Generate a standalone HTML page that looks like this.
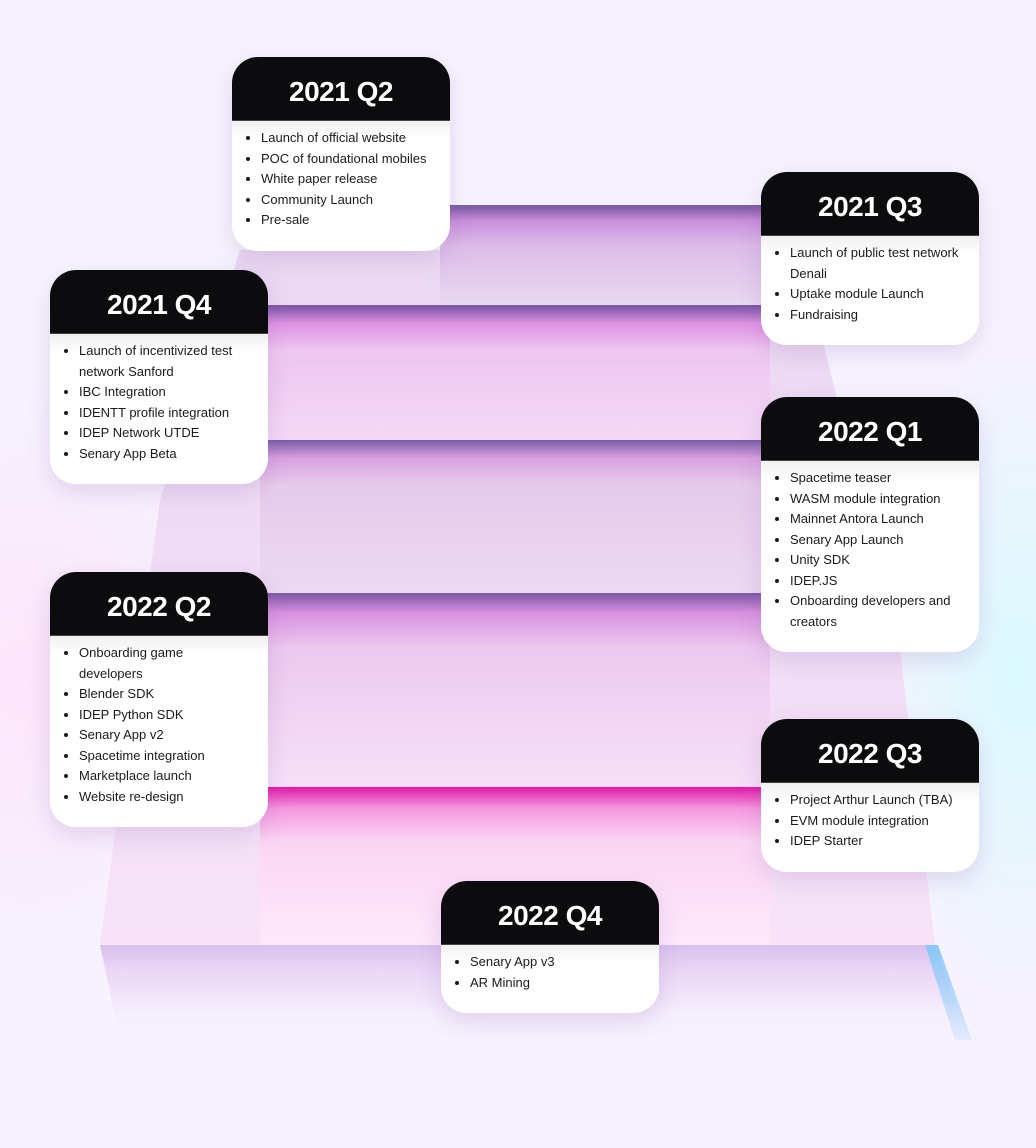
<!DOCTYPE html>
<html><head><style>
body{margin:0;width:1036px;height:1148px;overflow:hidden;background:#f6f3fe;font-family:"Liberation Sans",sans-serif;position:relative}
.bg{position:absolute}
.band{position:absolute}
.card{position:absolute;width:218px;background:#fff;border-radius:26px;overflow:hidden;box-shadow:0 8px 24px rgba(120,80,160,.18)}
.card h2{margin:0;background:#0c0c0e;color:#fff;font-size:28px;font-weight:900;text-align:center;letter-spacing:-0.5px;height:63px;line-height:70px;border-bottom:1px solid #444}
.card ul{margin:0;padding:7px 14px 20px 29px;font-size:13px;line-height:20.5px;color:#1a1a1a;background:linear-gradient(#f0f0f0,#fff 18px)}
</style></head><body>
<div class="bg" style="left:0;top:380px;width:260px;height:600px;background:radial-gradient(ellipse at 10% 50%,rgba(255,225,250,.8),transparent 70%)"></div>
<div class="bg" style="left:860px;top:350px;width:176px;height:650px;background:radial-gradient(ellipse at 90% 50%,rgba(215,250,255,.9),transparent 70%)"></div>
<!-- main pink body -->
<div class="bg" style="left:0;top:0;width:1036px;height:1148px;clip-path:polygon(240px 250px,440px 250px,440px 205px,770px 205px,820px 330px,900px 650px,935px 945px,100px 945px,160px 500px);background:linear-gradient(#e6d6f0,#f0dcf5 50%,#fbe6fa)"></div>
<div class="band" style="left:440px;top:205px;width:330px;height:100px;background:linear-gradient(#7a5aa6 0,#8a62ae 4px,#c98fdb 16px,#dcbbe8 40px,#e9d9f1 100%)"></div>
<div class="band" style="left:260px;top:305px;width:510px;height:135px;background:linear-gradient(#7a58a6 0,#8a5fae 4px,#de92e2 18px,#eec6f1 45px,#f4d9f6 100%)"></div>
<div class="band" style="left:260px;top:440px;width:510px;height:153px;background:linear-gradient(#7a5aa6 0,#8e6cb3 4px,#d8a0e0 18px,#e6cbeb 45px,#ecd9f1 100%)"></div>
<div class="band" style="left:260px;top:593px;width:510px;height:194px;background:linear-gradient(#7a5aa6 0,#9162b1 4px,#d991e0 20px,#ecc9ef 55px,#f6e1f8 100%)"></div>
<div class="band" style="left:260px;top:787px;width:510px;height:158px;background:linear-gradient(#e21aa6 0,#e63cb8 6px,#f59ae0 22px,#fbd6f4 55px,#fde9fb 100%)"></div>
<div class="band" style="left:0;top:945px;width:1036px;height:100px;clip-path:polygon(100px 0,935px 0,970px 95px,120px 95px);background:linear-gradient(#d9c0ee 0,#ead6f6 25px,rgba(246,236,252,.6) 70px,rgba(246,243,254,0) 100%)"></div>
<div class="band" style="left:0;top:945px;width:1036px;height:100px;clip-path:polygon(925px 0,938px 0,972px 95px,955px 95px);background:linear-gradient(#8cc8f8,rgba(200,225,252,.3))"></div>

<div class="card" style="left:232px;top:57px"><h2>2021 Q2</h2><ul>
<li>Launch of official website</li><li>POC of foundational mobiles</li><li>White paper release</li><li>Community Launch</li><li>Pre-sale</li></ul></div>

<div class="card" style="left:761px;top:172px"><h2>2021 Q3</h2><ul>
<li>Launch of public test network Denali</li><li>Uptake module Launch</li><li>Fundraising</li></ul></div>

<div class="card" style="left:50px;top:270px"><h2>2021 Q4</h2><ul>
<li>Launch of incentivized test network Sanford</li><li>IBC Integration</li><li>IDENTT profile integration</li><li>IDEP Network UTDE</li><li>Senary App Beta</li></ul></div>

<div class="card" style="left:761px;top:397px"><h2>2022 Q1</h2><ul>
<li>Spacetime teaser</li><li>WASM module integration</li><li>Mainnet Antora Launch</li><li>Senary App Launch</li><li>Unity SDK</li><li>IDEP.JS</li><li>Onboarding developers and creators</li></ul></div>

<div class="card" style="left:50px;top:572px"><h2>2022 Q2</h2><ul>
<li>Onboarding game<br>developers</li><li>Blender SDK</li><li>IDEP Python SDK</li><li>Senary App v2</li><li>Spacetime integration</li><li>Marketplace launch</li><li>Website re-design</li></ul></div>

<div class="card" style="left:761px;top:719px"><h2>2022 Q3</h2><ul>
<li>Project Arthur Launch (TBA)</li><li>EVM module integration</li><li>IDEP Starter</li></ul></div>

<div class="card" style="left:441px;top:881px"><h2>2022 Q4</h2><ul>
<li>Senary App v3</li><li>AR Mining</li></ul></div>
</body></html>
